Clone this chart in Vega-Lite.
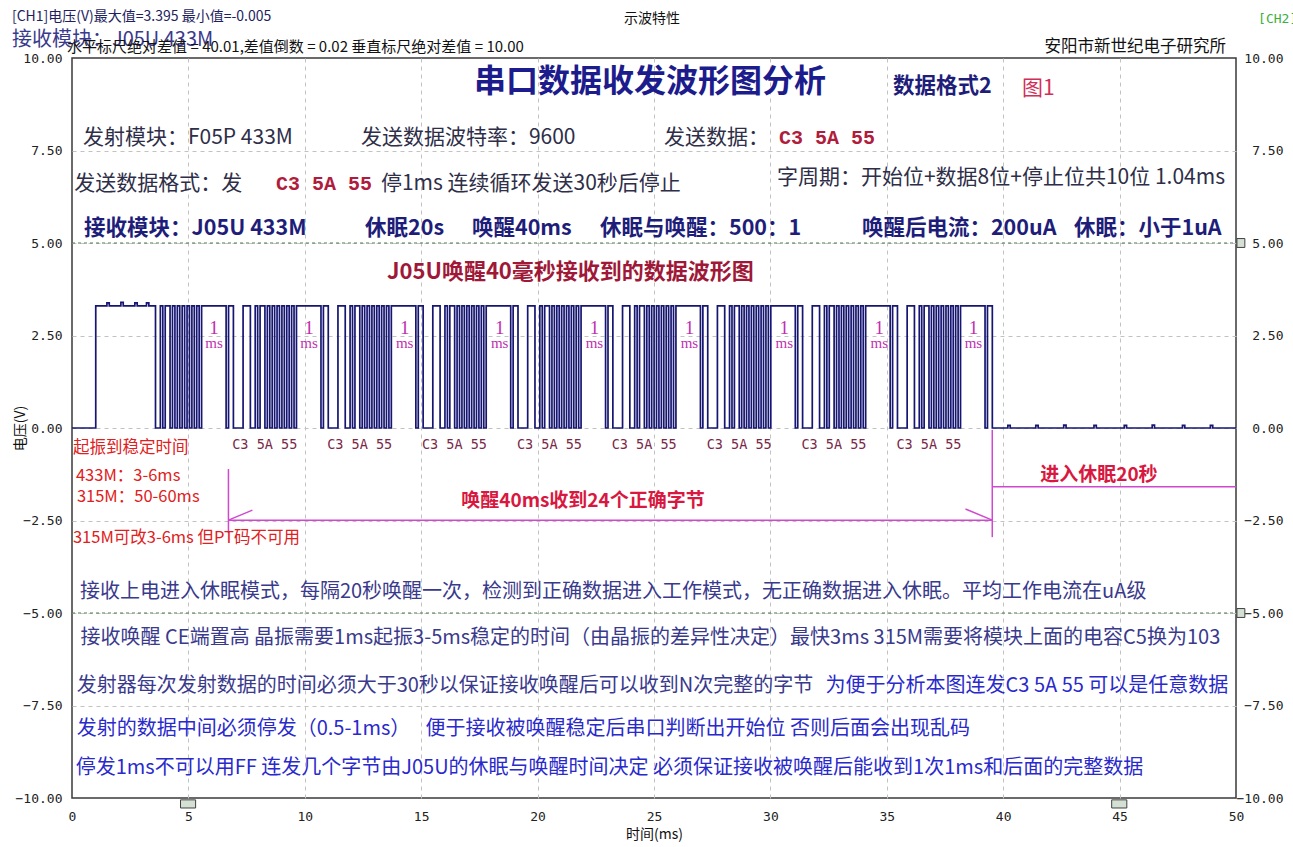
{
  "$schema": "https://vega.github.io/schema/vega-lite/v6.json",
  "width": 1164,
  "height": 740,
  "autosize": {"type": "none"},
  "padding": {"left": 72, "top": 58, "right": 57, "bottom": 49},
  "background": "white",
  "config": {
    "font": "Noto Sans CJK SC",
    "view": {"stroke": "#3a3a3a", "strokeWidth": 1.5},
    "axis": {
      "labelFont": "DejaVu Sans Mono",
      "labelFontSize": 13,
      "labelColor": "#222222",
      "ticks": false,
      "domain": false,
      "titleFont": "Noto Sans CJK SC",
      "titleFontSize": 14,
      "titleFontWeight": "normal",
      "titleColor": "#111111"
    },
    "text": {"baseline": "middle", "font": "Noto Sans CJK SC"}
  },
  "datasets": {
    "wave": [
      {"t": 0, "v": 0}, {"t": 1.02, "v": 3.3},
      {"t": 1.5, "v": 3.38}, {"t": 1.6, "v": 3.3}, {"t": 2.1, "v": 3.395}, {"t": 2.2, "v": 3.3},
      {"t": 2.7, "v": 3.38}, {"t": 2.8, "v": 3.3}, {"t": 3.2, "v": 3.38}, {"t": 3.3, "v": 3.3},
      {"t": 3.587, "v": 0}, {"t": 3.795, "v": 3.3}, {"t": 3.9, "v": 0}, {"t": 4.004, "v": 3.3},
      {"t": 4.212, "v": 0}, {"t": 4.316, "v": 3.3}, {"t": 4.421, "v": 0}, {"t": 4.525, "v": 3.3},
      {"t": 4.629, "v": 0}, {"t": 4.733, "v": 3.3}, {"t": 4.837, "v": 0}, {"t": 4.942, "v": 3.3},
      {"t": 5.046, "v": 0}, {"t": 5.15, "v": 3.3}, {"t": 5.254, "v": 0}, {"t": 5.358, "v": 3.3},
      {"t": 5.463, "v": 0}, {"t": 5.567, "v": 3.3},
      {"t": 6.62, "v": 0}, {"t": 6.724, "v": 3.3}, {"t": 6.933, "v": 0}, {"t": 7.349, "v": 3.3},
      {"t": 7.662, "v": 0}, {"t": 7.87, "v": 3.3}, {"t": 7.975, "v": 0}, {"t": 8.079, "v": 3.3},
      {"t": 8.287, "v": 0}, {"t": 8.391, "v": 3.3}, {"t": 8.496, "v": 0}, {"t": 8.6, "v": 3.3},
      {"t": 8.704, "v": 0}, {"t": 8.808, "v": 3.3}, {"t": 8.912, "v": 0}, {"t": 9.017, "v": 3.3},
      {"t": 9.121, "v": 0}, {"t": 9.225, "v": 3.3}, {"t": 9.329, "v": 0}, {"t": 9.433, "v": 3.3},
      {"t": 9.538, "v": 0}, {"t": 9.642, "v": 3.3},
      {"t": 10.695, "v": 0}, {"t": 10.799, "v": 3.3}, {"t": 11.008, "v": 0}, {"t": 11.424, "v": 3.3},
      {"t": 11.737, "v": 0}, {"t": 11.945, "v": 3.3}, {"t": 12.05, "v": 0}, {"t": 12.154, "v": 3.3},
      {"t": 12.362, "v": 0}, {"t": 12.466, "v": 3.3}, {"t": 12.571, "v": 0}, {"t": 12.675, "v": 3.3},
      {"t": 12.779, "v": 0}, {"t": 12.883, "v": 3.3}, {"t": 12.987, "v": 0}, {"t": 13.092, "v": 3.3},
      {"t": 13.196, "v": 0}, {"t": 13.3, "v": 3.3}, {"t": 13.404, "v": 0}, {"t": 13.508, "v": 3.3},
      {"t": 13.613, "v": 0}, {"t": 13.717, "v": 3.3},
      {"t": 14.77, "v": 0}, {"t": 14.874, "v": 3.3}, {"t": 15.083, "v": 0}, {"t": 15.499, "v": 3.3},
      {"t": 15.812, "v": 0}, {"t": 16.02, "v": 3.3}, {"t": 16.125, "v": 0}, {"t": 16.229, "v": 3.3},
      {"t": 16.437, "v": 0}, {"t": 16.541, "v": 3.3}, {"t": 16.646, "v": 0}, {"t": 16.75, "v": 3.3},
      {"t": 16.854, "v": 0}, {"t": 16.958, "v": 3.3}, {"t": 17.062, "v": 0}, {"t": 17.167, "v": 3.3},
      {"t": 17.271, "v": 0}, {"t": 17.375, "v": 3.3}, {"t": 17.479, "v": 0}, {"t": 17.583, "v": 3.3},
      {"t": 17.688, "v": 0}, {"t": 17.792, "v": 3.3},
      {"t": 18.845, "v": 0}, {"t": 18.949, "v": 3.3}, {"t": 19.158, "v": 0}, {"t": 19.574, "v": 3.3},
      {"t": 19.887, "v": 0}, {"t": 20.095, "v": 3.3}, {"t": 20.2, "v": 0}, {"t": 20.304, "v": 3.3},
      {"t": 20.512, "v": 0}, {"t": 20.616, "v": 3.3}, {"t": 20.721, "v": 0}, {"t": 20.825, "v": 3.3},
      {"t": 20.929, "v": 0}, {"t": 21.033, "v": 3.3}, {"t": 21.137, "v": 0}, {"t": 21.242, "v": 3.3},
      {"t": 21.346, "v": 0}, {"t": 21.45, "v": 3.3}, {"t": 21.554, "v": 0}, {"t": 21.658, "v": 3.3},
      {"t": 21.763, "v": 0}, {"t": 21.867, "v": 3.3},
      {"t": 22.92, "v": 0}, {"t": 23.024, "v": 3.3}, {"t": 23.233, "v": 0}, {"t": 23.649, "v": 3.3},
      {"t": 23.962, "v": 0}, {"t": 24.17, "v": 3.3}, {"t": 24.275, "v": 0}, {"t": 24.379, "v": 3.3},
      {"t": 24.587, "v": 0}, {"t": 24.691, "v": 3.3}, {"t": 24.796, "v": 0}, {"t": 24.9, "v": 3.3},
      {"t": 25.004, "v": 0}, {"t": 25.108, "v": 3.3}, {"t": 25.212, "v": 0}, {"t": 25.317, "v": 3.3},
      {"t": 25.421, "v": 0}, {"t": 25.525, "v": 3.3}, {"t": 25.629, "v": 0}, {"t": 25.733, "v": 3.3},
      {"t": 25.838, "v": 0}, {"t": 25.942, "v": 3.3},
      {"t": 26.995, "v": 0}, {"t": 27.099, "v": 3.3}, {"t": 27.308, "v": 0}, {"t": 27.724, "v": 3.3},
      {"t": 28.037, "v": 0}, {"t": 28.245, "v": 3.3}, {"t": 28.35, "v": 0}, {"t": 28.454, "v": 3.3},
      {"t": 28.662, "v": 0}, {"t": 28.766, "v": 3.3}, {"t": 28.871, "v": 0}, {"t": 28.975, "v": 3.3},
      {"t": 29.079, "v": 0}, {"t": 29.183, "v": 3.3}, {"t": 29.287, "v": 0}, {"t": 29.392, "v": 3.3},
      {"t": 29.496, "v": 0}, {"t": 29.6, "v": 3.3}, {"t": 29.704, "v": 0}, {"t": 29.808, "v": 3.3},
      {"t": 29.913, "v": 0}, {"t": 30.017, "v": 3.3},
      {"t": 31.07, "v": 0}, {"t": 31.174, "v": 3.3}, {"t": 31.383, "v": 0}, {"t": 31.799, "v": 3.3},
      {"t": 32.112, "v": 0}, {"t": 32.32, "v": 3.3}, {"t": 32.425, "v": 0}, {"t": 32.529, "v": 3.3},
      {"t": 32.737, "v": 0}, {"t": 32.841, "v": 3.3}, {"t": 32.946, "v": 0}, {"t": 33.05, "v": 3.3},
      {"t": 33.154, "v": 0}, {"t": 33.258, "v": 3.3}, {"t": 33.362, "v": 0}, {"t": 33.467, "v": 3.3},
      {"t": 33.571, "v": 0}, {"t": 33.675, "v": 3.3}, {"t": 33.779, "v": 0}, {"t": 33.883, "v": 3.3},
      {"t": 33.988, "v": 0}, {"t": 34.092, "v": 3.3},
      {"t": 35.145, "v": 0}, {"t": 35.249, "v": 3.3}, {"t": 35.458, "v": 0}, {"t": 35.874, "v": 3.3},
      {"t": 36.187, "v": 0}, {"t": 36.395, "v": 3.3}, {"t": 36.5, "v": 0}, {"t": 36.604, "v": 3.3},
      {"t": 36.812, "v": 0}, {"t": 36.916, "v": 3.3}, {"t": 37.021, "v": 0}, {"t": 37.125, "v": 3.3},
      {"t": 37.229, "v": 0}, {"t": 37.333, "v": 3.3}, {"t": 37.437, "v": 0}, {"t": 37.542, "v": 3.3},
      {"t": 37.646, "v": 0}, {"t": 37.75, "v": 3.3}, {"t": 37.854, "v": 0}, {"t": 37.958, "v": 3.3},
      {"t": 38.063, "v": 0}, {"t": 38.167, "v": 3.3},
      {"t": 39.22, "v": 0}, {"t": 39.324, "v": 3.3}, {"t": 39.533, "v": 0},
      {"t": 40.2, "v": 0.07}, {"t": 40.3, "v": 0}, {"t": 41.4, "v": 0.07}, {"t": 41.5, "v": 0},
      {"t": 42.6, "v": 0.08}, {"t": 42.7, "v": 0}, {"t": 43.9, "v": 0.07}, {"t": 44.0, "v": 0},
      {"t": 45.2, "v": 0.07}, {"t": 45.3, "v": 0}, {"t": 46.4, "v": 0.08}, {"t": 46.5, "v": 0},
      {"t": 47.7, "v": 0.07}, {"t": 47.8, "v": 0}, {"t": 48.9, "v": 0.07}, {"t": 49.0, "v": 0},
      {"t": 50, "v": 0}
    ],
    "cursors": [{"t": 5}, {"t": 45}],
    "levels": [{"t": 0, "t2": 50, "v": 5}, {"t": 0, "t2": 50, "v": -5}],
    "separators": [
      {"t": 5.67}, {"t": 6.62}, {"t": 9.745}, {"t": 10.695}, {"t": 13.82}, {"t": 14.77},
      {"t": 17.895}, {"t": 18.845}, {"t": 21.97}, {"t": 22.92}, {"t": 26.045}, {"t": 26.995},
      {"t": 30.12}, {"t": 31.07}, {"t": 34.195}, {"t": 35.145}, {"t": 38.27}, {"t": 39.22}
    ],
    "arrows": [
      {"t": 6.72, "v": -1.11, "t2": 6.72, "v2": -2.84},
      {"t": 6.72, "v": -2.49, "t2": 39.53, "v2": -2.49},
      {"t": 6.72, "v": -2.49, "t2": 7.75, "v2": -2.22},
      {"t": 39.53, "v": -2.49, "t2": 38.38, "v2": -2.19},
      {"t": 39.53, "v": -0.05, "t2": 39.53, "v2": -2.95},
      {"t": 39.53, "v": -1.59, "t2": 50, "v2": -1.59}
    ],
    "markers": [
      {"t": 4.66, "t2": 5.31, "v": -10.05, "v2": -10.27},
      {"t": 44.66, "t2": 45.31, "v": -10.05, "v2": -10.27},
      {"t": 50.04, "t2": 50.38, "v": 5.12, "v2": 4.88},
      {"t": 50.04, "t2": 50.38, "v": -4.88, "v2": -5.12}
    ],
    "labels": [
      {"kind": "head", "t": 24.83, "v": 9.35, "text": "串口数据收发波形图分析"},
      {"kind": "navy", "t": 35.27, "v": 9.22, "text": "数据格式2"},
      {"kind": "navy", "t": 0.52, "v": 5.38, "text": "接收模块：J05U 433M"},
      {"kind": "navy", "t": 12.59, "v": 5.38, "text": "休眠20s"},
      {"kind": "navy", "t": 17.18, "v": 5.38, "text": "唤醒40ms"},
      {"kind": "navy", "t": 22.68, "v": 5.38, "text": "休眠与唤醒：500：1"},
      {"kind": "navy", "t": 33.93, "v": 5.38, "text": "唤醒后电流：200uA"},
      {"kind": "navy", "t": 43.04, "v": 5.38, "text": "休眠：小于1uA"},
      {"kind": "fig", "t": 40.81, "v": 9.16, "text": "图1"},
      {"kind": "spec", "t": 0.47, "v": 7.84, "text": "发射模块：F05P 433M"},
      {"kind": "spec", "t": 12.41, "v": 7.84, "text": "发送数据波特率：9600"},
      {"kind": "spec", "t": 25.43, "v": 7.84, "text": "发送数据："},
      {"kind": "spec", "t": 0.1, "v": 6.6, "text": "发送数据格式：发"},
      {"kind": "spec", "t": 13.27, "v": 6.6, "text": "停1ms 连续循环发送30秒后停止"},
      {"kind": "spec", "t": 30.28, "v": 6.76, "text": "字周期：开始位+数据8位+停止位共10位 1.04ms"},
      {"kind": "data", "t": 30.37, "v": 7.84, "text": "C3 5A 55"},
      {"kind": "data", "t": 8.76, "v": 6.6, "text": "C3 5A 55"},
      {"kind": "wave", "t": 13.53, "v": 4.22, "text": "J05U唤醒40毫秒接收到的数据波形图"},
      {"kind": "one", "t": 6.1, "v": 2.7, "text": "1"},
      {"kind": "one", "t": 10.18, "v": 2.7, "text": "1"},
      {"kind": "one", "t": 14.29, "v": 2.7, "text": "1"},
      {"kind": "one", "t": 18.37, "v": 2.7, "text": "1"},
      {"kind": "one", "t": 22.44, "v": 2.7, "text": "1"},
      {"kind": "one", "t": 26.52, "v": 2.7, "text": "1"},
      {"kind": "one", "t": 30.6, "v": 2.7, "text": "1"},
      {"kind": "one", "t": 34.68, "v": 2.7, "text": "1"},
      {"kind": "one", "t": 38.72, "v": 2.7, "text": "1"},
      {"kind": "ms", "t": 6.1, "v": 2.3, "text": "ms"},
      {"kind": "ms", "t": 10.18, "v": 2.3, "text": "ms"},
      {"kind": "ms", "t": 14.29, "v": 2.3, "text": "ms"},
      {"kind": "ms", "t": 18.37, "v": 2.3, "text": "ms"},
      {"kind": "ms", "t": 22.44, "v": 2.3, "text": "ms"},
      {"kind": "ms", "t": 26.52, "v": 2.3, "text": "ms"},
      {"kind": "ms", "t": 30.6, "v": 2.3, "text": "ms"},
      {"kind": "ms", "t": 34.68, "v": 2.3, "text": "ms"},
      {"kind": "ms", "t": 38.72, "v": 2.3, "text": "ms"},
      {"kind": "byte", "t": 8.28, "v": -0.46, "text": "C3 5A 55"},
      {"kind": "byte", "t": 12.36, "v": -0.46, "text": "C3 5A 55"},
      {"kind": "byte", "t": 16.43, "v": -0.46, "text": "C3 5A 55"},
      {"kind": "byte", "t": 20.51, "v": -0.46, "text": "C3 5A 55"},
      {"kind": "byte", "t": 24.58, "v": -0.46, "text": "C3 5A 55"},
      {"kind": "byte", "t": 28.66, "v": -0.46, "text": "C3 5A 55"},
      {"kind": "byte", "t": 32.73, "v": -0.46, "text": "C3 5A 55"},
      {"kind": "byte", "t": 36.81, "v": -0.46, "text": "C3 5A 55"},
      {"kind": "red", "t": 0.04, "v": -0.54, "text": "起振到稳定时间"},
      {"kind": "red", "t": 0.17, "v": -1.3, "text": "433M：3-6ms"},
      {"kind": "red", "t": 0.21, "v": -1.86, "text": "315M：50-60ms"},
      {"kind": "red", "t": 0.04, "v": -2.97, "text": "315M可改3-6ms 但PT码不可用"},
      {"kind": "span", "t": 21.95, "v": -1.97, "text": "唤醒40ms收到24个正确字节"},
      {"kind": "span", "t": 44.11, "v": -1.27, "text": "进入休眠20秒"},
      {"kind": "note", "t": 0.34, "v": -4.43, "text": "接收上电进入休眠模式，每隔20秒唤醒一次，检测到正确数据进入工作模式，无正确数据进入休眠。平均工作电流在uA级"},
      {"kind": "note", "t": 0.37, "v": -5.68, "text": "接收唤醒 CE端置高 晶振需要1ms起振3-5ms稳定的时间（由晶振的差异性决定）最快3ms  315M需要将模块上面的电容C5换为103"},
      {"kind": "note", "t": 0.2, "v": -6.97, "text": "发射器每次发射数据的时间必须大于30秒以保证接收唤醒后可以收到N次完整的字节"},
      {"kind": "note2", "t": 32.37, "v": -6.97, "text": "为便于分析本图连发C3 5A 55 可以是任意数据"},
      {"kind": "note2", "t": 0.2, "v": -8.14, "text": "发射的数据中间必须停发（0.5-1ms）"},
      {"kind": "note2", "t": 15.19, "v": -8.14, "text": "便于接收被唤醒稳定后串口判断出开始位 否则后面会出现乱码"},
      {"kind": "note2", "t": 0.16, "v": -9.19, "text": "停发1ms不可以用FF 连发几个字节由J05U的休眠与唤醒时间决定 必须保证接收被唤醒后能收到1次1ms和后面的完整数据"},
      {"kind": "hdr", "t": -2.58, "v": 11.11, "text": "[CH1]电压(V)最大值=3.395 最小值=-0.005"},
      {"kind": "hdrc", "t": 24.91, "v": 11.05, "text": "示波特性"},
      {"kind": "ch2", "t": 50.95, "v": 11.05, "text": "[CH2]"},
      {"kind": "hdrbig", "t": -2.58, "v": 10.49, "text": "接收模块：J05U 433M"},
      {"kind": "hdrs", "t": -0.21, "v": 10.3, "text": "水平标尺绝对差值 = 40.01,差值倒数 = 0.02 垂直标尺绝对差值 = 10.00"},
      {"kind": "hdrr", "t": 49.57, "v": 10.3, "text": "安阳市新世纪电子研究所"}
    ]
  },
  "encoding": {
    "x": {
      "field": "t", "type": "quantitative",
      "scale": {"domain": [0, 50], "nice": false, "zero": false},
      "axis": {
        "orient": "bottom",
        "values": [0, 5, 10, 15, 20, 25, 30, 35, 40, 45, 50],
        "format": "d",
        "labelPadding": 12,
        "labelFlush": false,
        "grid": true, "gridDash": [4, 4], "gridColor": "#c2c2c2",
        "gridOpacity": {"condition": {"test": "datum.value == 0 || datum.value == 50", "value": 0}, "value": 1},
        "title": "时间(ms)", "titlePadding": 4
      }
    },
    "y": {"field": "v", "type": "quantitative", "scale": {"domain": [-10, 10], "nice": false, "zero": false}, "axis": null}
  },
  "resolve": {"scale": {"y": "independent"}},
  "layer": [
    {
      "data": {"name": "wave"},
      "mark": {"type": "line", "interpolate": "step-after", "stroke": "#161672", "strokeWidth": 1.7},
      "encoding": {
        "y": {
          "field": "v", "type": "quantitative",
          "scale": {"domain": [-10, 10], "nice": false, "zero": false},
          "axis": {
            "orient": "left", "values": [-10, -7.5, -5, -2.5, 0, 2.5, 5, 7.5, 10], "format": ".2f",
            "labelPadding": 10,
            "grid": true, "gridDash": [4, 4], "gridColor": "#c2c2c2",
            "gridOpacity": {"condition": {"test": "abs(datum.value) > 9", "value": 0}, "value": 1},
            "title": "电压(V)", "titlePadding": -12
          }
        }
      }
    },
    {
      "data": {"name": "cursors"},
      "mark": {"type": "rule", "stroke": "#2f6b2f", "strokeWidth": 1.2, "strokeDash": [6, 3]},
      "encoding": {"y": {"datum": -10, "axis": null, "scale": {"domain": [-10, 10]}}, "y2": {"datum": 10}}
    },
    {
      "data": {"name": "levels"},
      "mark": {"type": "rule", "stroke": "#4a7c4a", "strokeWidth": 1.2, "strokeDash": [3, 3]},
      "encoding": {
        "x2": {"field": "t2"},
        "y": {
          "field": "v", "type": "quantitative",
          "scale": {"domain": [-10, 10], "nice": false, "zero": false},
          "axis": {
            "orient": "right", "values": [-10, -7.5, -5, -2.5, 0, 2.5, 5, 7.5, 10], "format": ".2f",
            "labelAlign": "right", "labelPadding": 47, "grid": false, "title": null
          }
        }
      }
    },
    {
      "data": {"name": "separators"},
      "mark": {"type": "rule", "stroke": "#d8a4d8", "strokeWidth": 1},
      "encoding": {"y": {"datum": -0.05, "axis": null, "scale": {"domain": [-10, 10]}}, "y2": {"datum": -0.92}}
    },
    {
      "data": {"name": "arrows"},
      "mark": {"type": "rule", "stroke": "#d048d0", "strokeWidth": 1.5},
      "encoding": {"x2": {"field": "t2"}, "y2": {"field": "v2"}}
    },
    {
      "data": {"name": "markers"},
      "mark": {"type": "rect", "fill": "#d4e0d4", "stroke": "#404040", "strokeWidth": 1},
      "encoding": {"x2": {"field": "t2"}, "y2": {"field": "v2"}}
    },
    {
      "data": {"name": "labels"},
      "transform": [{"filter": "datum.kind == 'head'"}],
      "mark": {"type": "text", "align": "center", "fontSize": 32, "fontWeight": "bold", "color": "#1c1c8c"},
      "encoding": {"text": {"field": "text"}}
    },
    {
      "data": {"name": "labels"},
      "transform": [{"filter": "datum.kind == 'navy'"}],
      "mark": {"type": "text", "align": "left", "fontSize": 21.5, "fontWeight": "bold", "color": "#1e1e7a"},
      "encoding": {"text": {"field": "text"}}
    },
    {
      "data": {"name": "labels"},
      "transform": [{"filter": "datum.kind == 'fig'"}],
      "mark": {"type": "text", "align": "left", "fontSize": 21, "color": "#d03058"},
      "encoding": {"text": {"field": "text"}}
    },
    {
      "data": {"name": "labels"},
      "transform": [{"filter": "datum.kind == 'spec'"}],
      "mark": {"type": "text", "align": "left", "fontSize": 21, "color": "#2e2e48"},
      "encoding": {"text": {"field": "text"}}
    },
    {
      "data": {"name": "labels"},
      "transform": [{"filter": "datum.kind == 'data'"}],
      "mark": {"type": "text", "align": "left", "font": "Liberation Mono", "fontSize": 20, "fontWeight": "bold", "color": "#b01c3c"},
      "encoding": {"text": {"field": "text"}}
    },
    {
      "data": {"name": "labels"},
      "transform": [{"filter": "datum.kind == 'wave'"}],
      "mark": {"type": "text", "align": "left", "fontSize": 22, "fontWeight": "bold", "color": "#a01838"},
      "encoding": {"text": {"field": "text"}}
    },
    {
      "data": {"name": "labels"},
      "transform": [{"filter": "datum.kind == 'one'"}],
      "mark": {"type": "text", "align": "center", "font": "Liberation Serif", "fontSize": 19, "color": "#c030b0"},
      "encoding": {"text": {"field": "text"}}
    },
    {
      "data": {"name": "labels"},
      "transform": [{"filter": "datum.kind == 'ms'"}],
      "mark": {"type": "text", "align": "center", "font": "Liberation Serif", "fontSize": 15, "color": "#c030b0"},
      "encoding": {"text": {"field": "text"}}
    },
    {
      "data": {"name": "labels"},
      "transform": [{"filter": "datum.kind == 'byte'"}],
      "mark": {"type": "text", "align": "center", "font": "DejaVu Sans Mono", "fontSize": 13.5, "color": "#7a2848"},
      "encoding": {"text": {"field": "text"}}
    },
    {
      "data": {"name": "labels"},
      "transform": [{"filter": "datum.kind == 'red'"}],
      "mark": {"type": "text", "align": "left", "fontSize": 16.5, "color": "#e02020"},
      "encoding": {"text": {"field": "text"}}
    },
    {
      "data": {"name": "labels"},
      "transform": [{"filter": "datum.kind == 'span'"}],
      "mark": {"type": "text", "align": "center", "fontSize": 19, "fontWeight": "bold", "color": "#d81840"},
      "encoding": {"text": {"field": "text"}}
    },
    {
      "data": {"name": "labels"},
      "transform": [{"filter": "datum.kind == 'note'"}],
      "mark": {"type": "text", "align": "left", "fontSize": 20, "color": "#3a3a8c"},
      "encoding": {"text": {"field": "text"}}
    },
    {
      "data": {"name": "labels"},
      "transform": [{"filter": "datum.kind == 'note2'"}],
      "mark": {"type": "text", "align": "left", "fontSize": 20, "color": "#2a2acc"},
      "encoding": {"text": {"field": "text"}}
    },
    {
      "data": {"name": "labels"},
      "transform": [{"filter": "datum.kind == 'hdr'"}],
      "mark": {"type": "text", "align": "left", "fontSize": 14, "color": "#1e1e60"},
      "encoding": {"text": {"field": "text"}}
    },
    {
      "data": {"name": "labels"},
      "transform": [{"filter": "datum.kind == 'hdrc'"}],
      "mark": {"type": "text", "align": "center", "fontSize": 14, "color": "#111111"},
      "encoding": {"text": {"field": "text"}}
    },
    {
      "data": {"name": "labels"},
      "transform": [{"filter": "datum.kind == 'ch2'"}],
      "mark": {"type": "text", "align": "left", "font": "DejaVu Sans Mono", "fontSize": 13, "color": "#3cb03c"},
      "encoding": {"text": {"field": "text"}}
    },
    {
      "data": {"name": "labels"},
      "transform": [{"filter": "datum.kind == 'hdrbig'"}],
      "mark": {"type": "text", "align": "left", "fontSize": 20, "color": "#3a3a8c"},
      "encoding": {"text": {"field": "text"}}
    },
    {
      "data": {"name": "labels"},
      "transform": [{"filter": "datum.kind == 'hdrs'"}],
      "mark": {"type": "text", "align": "left", "fontSize": 15, "color": "#111111"},
      "encoding": {"text": {"field": "text"}}
    },
    {
      "data": {"name": "labels"},
      "transform": [{"filter": "datum.kind == 'hdrr'"}],
      "mark": {"type": "text", "align": "right", "fontSize": 16.5, "color": "#111111"},
      "encoding": {"text": {"field": "text"}}
    }
  ]
}
